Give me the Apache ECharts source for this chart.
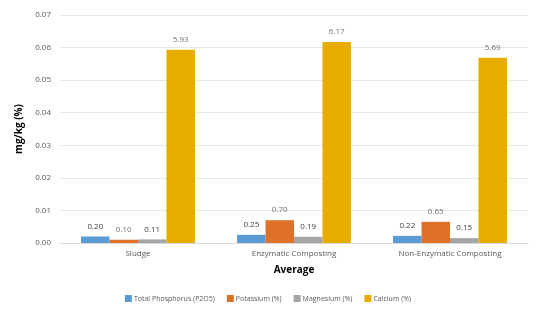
<!DOCTYPE html>
<html>
<head>
<meta charset="utf-8">
<script src="https://cdn.jsdelivr.net/npm/echarts@6/dist/echarts.min.js"></script>
<style>
  html, body { margin: 0; padding: 0; background: #fff; }
  #chart { width: 536px; height: 314px; }
</style>
</head>
<body>
<div id="chart"></div>
<script>
const categories = ['Sludge', 'Enzymatic Composting', 'Non-Enzymatic Composting'];
// values as printed on the bars (%); bars are drawn at value / 100 on the mg/kg axis
const phosphorus = [0.20, 0.25, 0.22];
const potassium = [0.10, 0.70, 0.65];
const magnesium = [0.11, 0.19, 0.15];
const calcium = [5.93, 6.17, 5.69];
const yTicks = [0, 0.01, 0.02, 0.03, 0.04, 0.05, 0.06, 0.07];

const font = 'Open Sans, Liberation Sans, sans-serif';

function makeSeries(name, values, color, labelColor) {
  return {
    name: name,
    type: 'bar',
    barGap: '0%',
    barCategoryGap: '27%',
    itemStyle: { color: color },
    label: {
      show: true,
      position: 'top',
      distance: 6,
      color: labelColor,
      fontSize: 8,
      fontFamily: font,
      formatter: p => (p.value * 100).toFixed(2),
    },
    data: values.map(v => v / 100),
  };
}

const chart = echarts.init(document.getElementById('chart'));
chart.setOption({
  backgroundColor: '#fff',
  animation: false,
  grid: { left: 60, right: 8, top: 15, bottom: 71 },
  legend: {
    bottom: 7,
    left: 'center',
    itemWidth: 7,
    itemHeight: 7,
    itemGap: 12,
    icon: 'rect',
    textStyle: { fontSize: 7, color: '#595959', fontFamily: font, padding: [0, 0, 0, -3] },
  },
  xAxis: {
    type: 'category',
    data: categories,
    name: 'Average',
    nameLocation: 'middle',
    nameGap: 22,
    nameTextStyle: { fontSize: 10, fontWeight: 'bold', color: '#000', fontFamily: font },
    axisLine: { lineStyle: { color: '#d9d9d9' } },
    axisTick: { show: false },
    axisLabel: { fontSize: 8, color: '#595959', fontFamily: font, margin: 7 },
  },
  yAxis: {
    type: 'value',
    min: yTicks[0],
    max: yTicks[yTicks.length - 1],
    interval: 0.01,
    name: 'mg/kg (%)',
    nameLocation: 'middle',
    nameGap: 30,
    nameTextStyle: { fontSize: 10, fontWeight: 'bold', color: '#000', fontFamily: font },
    axisLine: { show: false },
    axisTick: { show: false },
    splitLine: { lineStyle: { color: '#e6e6e6' } },
    axisLabel: { fontSize: 8, color: '#595959', fontFamily: font, margin: 9, formatter: v => v.toFixed(2) },
  },
  series: [
    makeSeries('Total Phosphorus (P2O5)', phosphorus, '#5B9BD5', '#404040'),
    makeSeries('Potassium (%)', potassium, '#E07128', '#707070'),
    makeSeries('Magnesium (%)', magnesium, '#A5A5A5', '#404040'),
    makeSeries('Calcium (%)', calcium, '#E6AC00', '#707070'),
  ],
});
</script>
</body>
</html>
